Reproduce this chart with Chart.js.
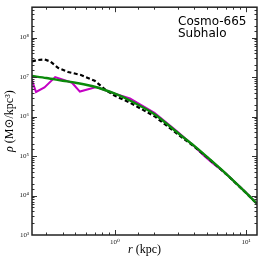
<!DOCTYPE html>
<html><head><meta charset="utf-8">
<style>html,body{margin:0;padding:0;background:#fff}#wrap{width:261px;height:262px}</style>
<script src="https://cdn.jsdelivr.net/npm/chart.js@4/dist/chart.umd.min.js"></script>
</head><body><div id="wrap"><canvas id="c" width="261" height="262"></canvas></div>
<script>
// ---- data (r in kpc, rho in Msun/kpc^3) ----
const rFit   = [0.233, 0.3, 0.4, 0.5, 0.7, 1.0, 1.3, 2.0, 3.0, 4.0, 5.0, 7.0, 10, 12.1];
const rhoFit = [1.07e7, 9.5e6, 8.1e6, 7.2e6, 5.7e6, 3.8e6, 2.56e6, 1.15e6, 3.9e5, 1.83e5, 9.7e4, 3.6e4, 1.17e4, 6.2e3];

const rDash   = [0.233, 0.255, 0.29, 0.32, 0.37, 0.44, 0.55, 0.70, 0.85, 1.0, 1.3, 2.0, 3.0, 4.0, 5.0, 7.0, 10, 12.1];
const rhoDash = [2.5e7, 2.7e7, 2.8e7, 2.5e7, 1.7e7, 1.35e7, 1.13e7, 8.1e6, 4.7e6, 3.35e6, 2.25e6, 1.02e6, 3.6e5, 1.75e5, 9.5e4, 3.55e4, 1.16e4, 6.15e3];

const rSub   = [0.233, 0.25, 0.29, 0.35, 0.47, 0.54, 0.72, 1.0, 1.3, 2.0, 3.0, 4.0, 4.8, 5.5, 7.0, 10, 12.1];
const rhoSub = [8.3e6, 4.2e6, 5.5e6, 1.0e7, 7.2e6, 4.3e6, 5.6e6, 3.8e6, 2.9e6, 1.25e6, 4.1e5, 1.8e5, 1.0e5, 6.8e4, 3.6e4, 1.17e4, 6.2e3];

const xRange = [0.233, 12.1];
const yRange = [1e3, 5.9e8];
const annotationLines = ['Cosmo-665', 'Subhalo'];
const xTitle = ['r', ' (kpc)'];
const yTitle = ['\u03c1', ' (M\u2299/kpc\u00b3)'];

const SERIF = "'Liberation Serif','DejaVu Serif',serif";
const SUP = {'0':'\u2070','1':'\u00b9','2':'\u00b2','3':'\u00b3','4':'\u2074','5':'\u2075','6':'\u2076','7':'\u2077','8':'\u2078','9':'\u2079','-':'\u207b'};
function isPow10(v){const e=Math.log10(v);return Math.abs(e-Math.round(e))<1e-6;}
function powLabel(v){ if(!isPow10(v)) return ''; const e=Math.round(Math.log10(v)); return '10'+String(e).split('').map(c=>SUP[c]).join(''); }
const pts = (xs, ys) => xs.map((x,i)=>({x, y: ys[i]}));

const decor = {
  id:'decor',
  afterDraw(chart){
    const ctx=chart.ctx, a=chart.chartArea;
    ctx.save();
    ctx.strokeStyle='#333'; ctx.lineWidth=1;
    const xs=chart.scales.x, ys=chart.scales.y;
    xs.ticks.forEach(t=>{
      const p=Math.round(xs.getPixelForValue(t.value))+0.5;
      if(p<a.left+1||p>a.right-1) return;
      const L=isPow10(t.value)?5:2.5;
      ctx.beginPath(); ctx.moveTo(p,a.bottom); ctx.lineTo(p,a.bottom-L);
      ctx.moveTo(p,a.top); ctx.lineTo(p,a.top+L); ctx.stroke();
    });
    ys.ticks.forEach(t=>{
      const p=Math.round(ys.getPixelForValue(t.value))+0.5;
      if(p<a.top+1||p>a.bottom-1) return;
      const L=isPow10(t.value)?5:2.5;
      ctx.beginPath(); ctx.moveTo(a.left,p); ctx.lineTo(a.left+L,p);
      ctx.moveTo(a.right,p); ctx.lineTo(a.right-L,p); ctx.stroke();
    });
    ctx.strokeStyle='#222'; ctx.lineWidth=1.5;
    ctx.strokeRect(a.left,a.top,a.right-a.left,a.bottom-a.top);
    ctx.fillStyle='#000'; ctx.font="12px 'DejaVu Sans',sans-serif"; ctx.textBaseline='alphabetic'; ctx.textAlign='left';
    annotationLines.forEach((s,i)=>ctx.fillText(s,178,25+i*11.5));
    function mixed(parts,cx,cy){
      const f1='italic 12px '+SERIF, f2='12px '+SERIF;
      ctx.font=f1; const w1=ctx.measureText(parts[0]).width;
      ctx.font=f2; const w2=ctx.measureText(parts[1]).width;
      let x=cx-(w1+w2)/2;
      ctx.textBaseline='middle';
      ctx.font=f1; ctx.fillText(parts[0],x,cy);
      ctx.font=f2; ctx.fillText(parts[1],x+w1,cy);
    }
    mixed(xTitle,(a.left+a.right)/2,250);
    ctx.translate(10,(a.top+a.bottom)/2); ctx.rotate(-Math.PI/2);
    mixed(yTitle,0,0);
    ctx.restore();
  }
};

const tickFont={family:SERIF,size:7};
new Chart(document.getElementById('c'),{
  type:'line',
  data:{datasets:[
    {label:'fit',data:pts(rFit,rhoFit),borderColor:'#0a8a0a',borderWidth:2.4,pointRadius:0,fill:false,tension:0.3,order:0},
    {label:'dm',data:pts(rDash,rhoDash),borderColor:'#000',borderWidth:2.2,borderDash:[4,2.5],pointRadius:0,fill:false,tension:0,order:1},
    {label:'sub',data:pts(rSub,rhoSub),borderColor:'#c400c4',borderWidth:2,pointRadius:0,fill:false,tension:0,order:2}
  ]},
  options:{
    responsive:false, animation:false, devicePixelRatio:1,
    layout:{padding:{top:3,right:4,left:0,bottom:0}},
    plugins:{legend:{display:false},tooltip:{enabled:false}},
    scales:{
      x:{type:'logarithmic',min:xRange[0],max:xRange[1],
         grid:{display:false,drawTicks:false},border:{display:false},
         ticks:{autoSkip:false,maxRotation:0,minRotation:0,padding:3,font:tickFont,color:'#222',callback:v=>powLabel(v)},
         afterFit(s){s.height=27;}},
      y:{type:'logarithmic',min:yRange[0],max:yRange[1],
         grid:{display:false,drawTicks:false},border:{display:false},
         ticks:{autoSkip:false,padding:3,font:tickFont,color:'#222',callback:v=>powLabel(v)},
         afterFit(s){s.width=32;}}
    }
  },
  plugins:[decor]
});
</script></body></html>
